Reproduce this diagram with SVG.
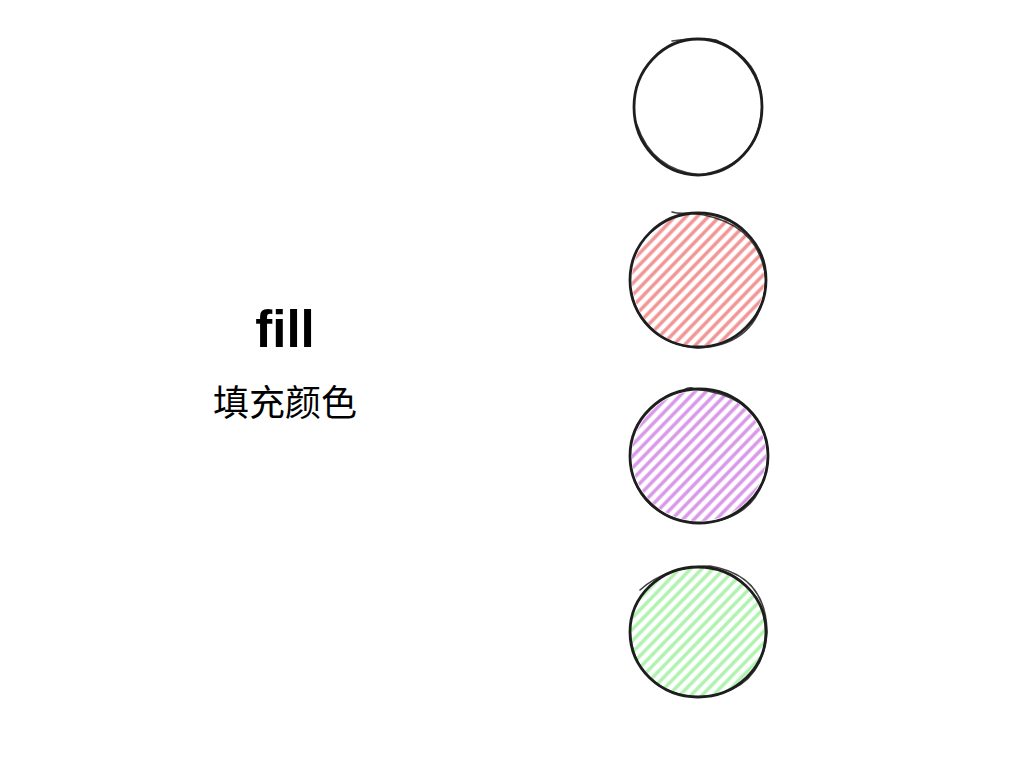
<svg xmlns="http://www.w3.org/2000/svg" width="1024" height="768" viewBox="0 0 1024 768">
<style>
.outline{fill:none;stroke:#1e1e1e;stroke-width:2.8;stroke-linecap:round}
.outline2{fill:none;stroke:#1e1e1e;stroke-width:1.6;stroke-linecap:round;opacity:0.85}
.title{font-family:"Liberation Sans","Noto Sans",sans-serif;font-weight:bold;font-size:51px;fill:#000;text-anchor:middle}
.sub{font-family:"Liberation Sans","Noto Sans CJK SC",sans-serif;font-size:36px;fill:#000;text-anchor:middle}
</style>
<defs>
<pattern id="hRed" width="8" height="8" patternUnits="userSpaceOnUse" patternTransform="rotate(-46)">
<line x1="0" y1="4" x2="8" y2="4" stroke="#f29393" stroke-width="3.4"/>
</pattern>
<pattern id="hPurple" width="8" height="8" patternUnits="userSpaceOnUse" patternTransform="rotate(-46)">
<line x1="0" y1="4" x2="8" y2="4" stroke="#d996e8" stroke-width="3.4"/>
</pattern>
<pattern id="hGreen" width="8" height="8" patternUnits="userSpaceOnUse" patternTransform="rotate(-46)">
<line x1="0" y1="4" x2="8" y2="4" stroke="#aef2ae" stroke-width="3.4"/>
</pattern>
</defs>
<g id="label">
<text class="title" x="285" y="347">fill</text>
<text class="sub" x="285" y="416">填充颜色</text>
</g>
<g id="circle-none">
<ellipse class="outline" cx="698" cy="107" rx="64" ry="68"/>
<path class="outline2" d="M672 41 Q700 37 716 40 Q762 60 762 104 Q760 165 700 175 Q652 170 637 125"/>
</g>
<g id="circle-red">
<ellipse cx="698" cy="280" rx="66" ry="66" fill="url(#hRed)"/>
<ellipse class="outline" cx="698" cy="280" rx="68" ry="67"/>
<path class="outline2" d="M672 212 Q678 214 690 213 Q760 220 766 280 Q762 345 698 348 Q640 342 631 290"/>
</g>
<g id="circle-purple">
<ellipse cx="699" cy="456" rx="67" ry="65" fill="url(#hPurple)"/>
<ellipse class="outline" cx="699" cy="456" rx="69" ry="67"/>
<path class="outline2" d="M684 390 Q690 386 694 389 Q765 396 768 455 Q764 520 700 523 Q636 518 630 460"/>
</g>
<g id="circle-green">
<ellipse cx="698" cy="632" rx="67" ry="64" fill="url(#hGreen)"/>
<ellipse class="outline" cx="698" cy="632" rx="68" ry="65"/>
<path class="outline2" d="M640 590 Q665 567 710 566 Q766 575 767 632 Q762 694 698 697 Q634 692 630 630"/>
</g>
</svg>
